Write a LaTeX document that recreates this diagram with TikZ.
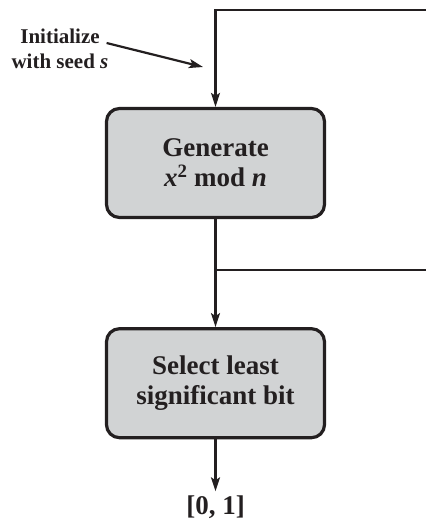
\documentclass[tikz,border=0pt]{standalone}
\usepackage{fontspec}
\setmainfont{Liberation Serif}
\usetikzlibrary{arrows.meta,positioning}
\definecolor{ink}{RGB}{35,31,32}
\definecolor{boxgray}{RGB}{209,211,212}

\begin{document}
\begin{tikzpicture}[
    x=1pt, y=-1pt,
    >={Stealth[length=14pt, width=9pt, inset=3pt]},
    every node/.style={font=\fontsize{27}{30}\selectfont\bfseries, text=ink},
    blk/.style={draw=ink, line width=3.2pt, rounded corners=13pt, fill=boxgray, minimum width=218pt, minimum height=109pt, align=center},
    conn/.style={draw=ink, line width=2.2pt},
  ]
    \useasboundingbox (0,0) rectangle (426,520);
    % blocks
    \node[blk] (gen) at (215.5,163) {Generate\\\textit{x}\textsuperscript{2} mod \textit{n}};
    \node[blk, below=108pt of gen] (sel) {Select least\\significant bit};
    \node[below=50pt of sel, inner sep=0pt, outer sep=0pt, yshift=-6pt] (out) {[0, 1]};
    \node[font=\fontsize{21}{25}\selectfont\bfseries, align=center, inner sep=0pt] (init) at (60,49) {Initialize\\with seed \textit{s}};
    % free ends
    \coordinate (fbin) at (426,10);
    \coordinate (fbout) at (426,270);
    \coordinate (seedpt) at (203,67);
    % connectors
    \draw[conn, ->] (fbin) -| (gen.north);
    \draw[conn, ->] (gen) -- (sel);
    \draw[conn] (gen.south |- fbout) -- (fbout);
    \draw[conn, ->] (sel) -- ([yshift=4pt]out.north);
    \draw[conn, ->] ([xshift=-2pt, yshift=6pt]init.east) -- (seedpt);
  \end{tikzpicture}
\end{document}
